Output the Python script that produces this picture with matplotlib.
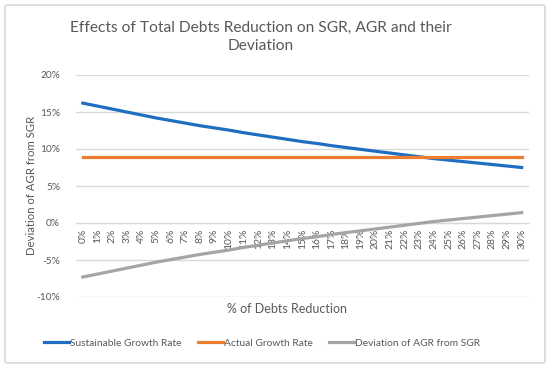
import matplotlib
matplotlib.use('Agg')
import matplotlib.pyplot as plt
from matplotlib.patches import FancyBboxPatch
from matplotlib.ticker import FuncFormatter

plt.rcParams['font.family'] = ['Lato', 'DejaVu Sans']

# данные
reduction = [f"{i}%" for i in range(31)]
sgr = [16.2, 15.8, 15.4, 15.0, 14.6, 14.2, 13.85, 13.5, 13.15, 12.85, 12.55,
       12.2, 11.9, 11.6, 11.3, 11.0, 10.75, 10.45, 10.2, 9.95, 9.7,
       9.45, 9.2, 8.95, 8.7, 8.5, 8.3, 8.1, 7.9, 7.7, 7.5]
agr = [8.9] * 31
deviation = [-7.3, -6.9, -6.5, -6.1, -5.7, -5.3, -4.95, -4.6, -4.25, -3.95, -3.65,
             -3.3, -3.0, -2.7, -2.4, -2.1, -1.85, -1.55, -1.3, -1.05, -0.8,
             -0.55, -0.3, -0.05, 0.2, 0.4, 0.6, 0.8, 1.0, 1.2, 1.4]
y_ticks = [-10, -5, 0, 5, 10, 15, 20]

text_col = '#595959'
grid_col = '#D9D9D9'

fig = plt.figure(figsize=(5.5, 3.68), dpi=100)

# рамка диаграммы
frame = FancyBboxPatch((5 / 550, 5 / 368), 540 / 550, 358 / 368,
                       boxstyle='round,pad=0,rounding_size=0.004',
                       transform=fig.transFigure, fill=False,
                       edgecolor='#D0D0D0', linewidth=1)
fig.patches.append(frame)

ax = fig.add_axes([75.5 / 550, 1 - 297 / 368, (529 - 75.5) / 550, (297 - 75) / 368])

x = list(range(len(reduction)))
ax.plot(x, sgr, color='#1F6EC1', linewidth=2.3, label='Sustainable Growth Rate', zorder=3)
ax.plot(x, agr, color='#ED7D31', linewidth=2.3, label='Actual Growth Rate', zorder=3)
ax.plot(x, deviation, color='#A5A5A5', linewidth=2.3, label='Deviation of AGR from SGR', zorder=3)

ax.set_xlim(-0.5, 30.5)
ax.set_ylim(-10, 20)
ax.set_yticks(y_ticks)
ax.yaxis.set_major_formatter(FuncFormatter(lambda v, p: f"{v:.0f}%"))
ax.grid(True, axis='y', color=grid_col, linewidth=1)
ax.set_axisbelow(True)

for s in ['top', 'right', 'left']:
    ax.spines[s].set_visible(False)
ax.spines['bottom'].set_position(('data', 0))
ax.spines['bottom'].set_color(grid_col)

ax.set_xticks(x)
ax.set_xticklabels(reduction, rotation=90, fontsize=7.5, color=text_col)
ax.tick_params(axis='x', length=0, pad=4)
ax.tick_params(axis='y', length=0, labelsize=7.3, colors=text_col, pad=11)

ax.set_ylabel('Deviation of AGR from SGR', fontsize=8.2, color=text_col)
ax.yaxis.set_label_coords(37 / 550, 1 - 185 / 368, transform=fig.transFigure)

fig.text(261 / 550, 1 - 37 / 368, 'Effects of Total Debts Reduction on SGR, AGR and their\nDeviation',
         ha='center', va='center', fontsize=11.2, color=text_col, linespacing=1.45)
fig.text(287 / 550, 1 - 309 / 368, '% of Debts Reduction', ha='center', va='center',
         fontsize=9, color=text_col)

leg = fig.legend(loc='center', bbox_to_anchor=(262 / 550, 1 - 343 / 368), ncol=3,
                 frameon=False, fontsize=7.4, handlelength=2.4, handletextpad=0.1,
                 columnspacing=1.6)
for t in leg.get_texts():
    t.set_color(text_col)

plt.savefig('out.png', dpi=100)
